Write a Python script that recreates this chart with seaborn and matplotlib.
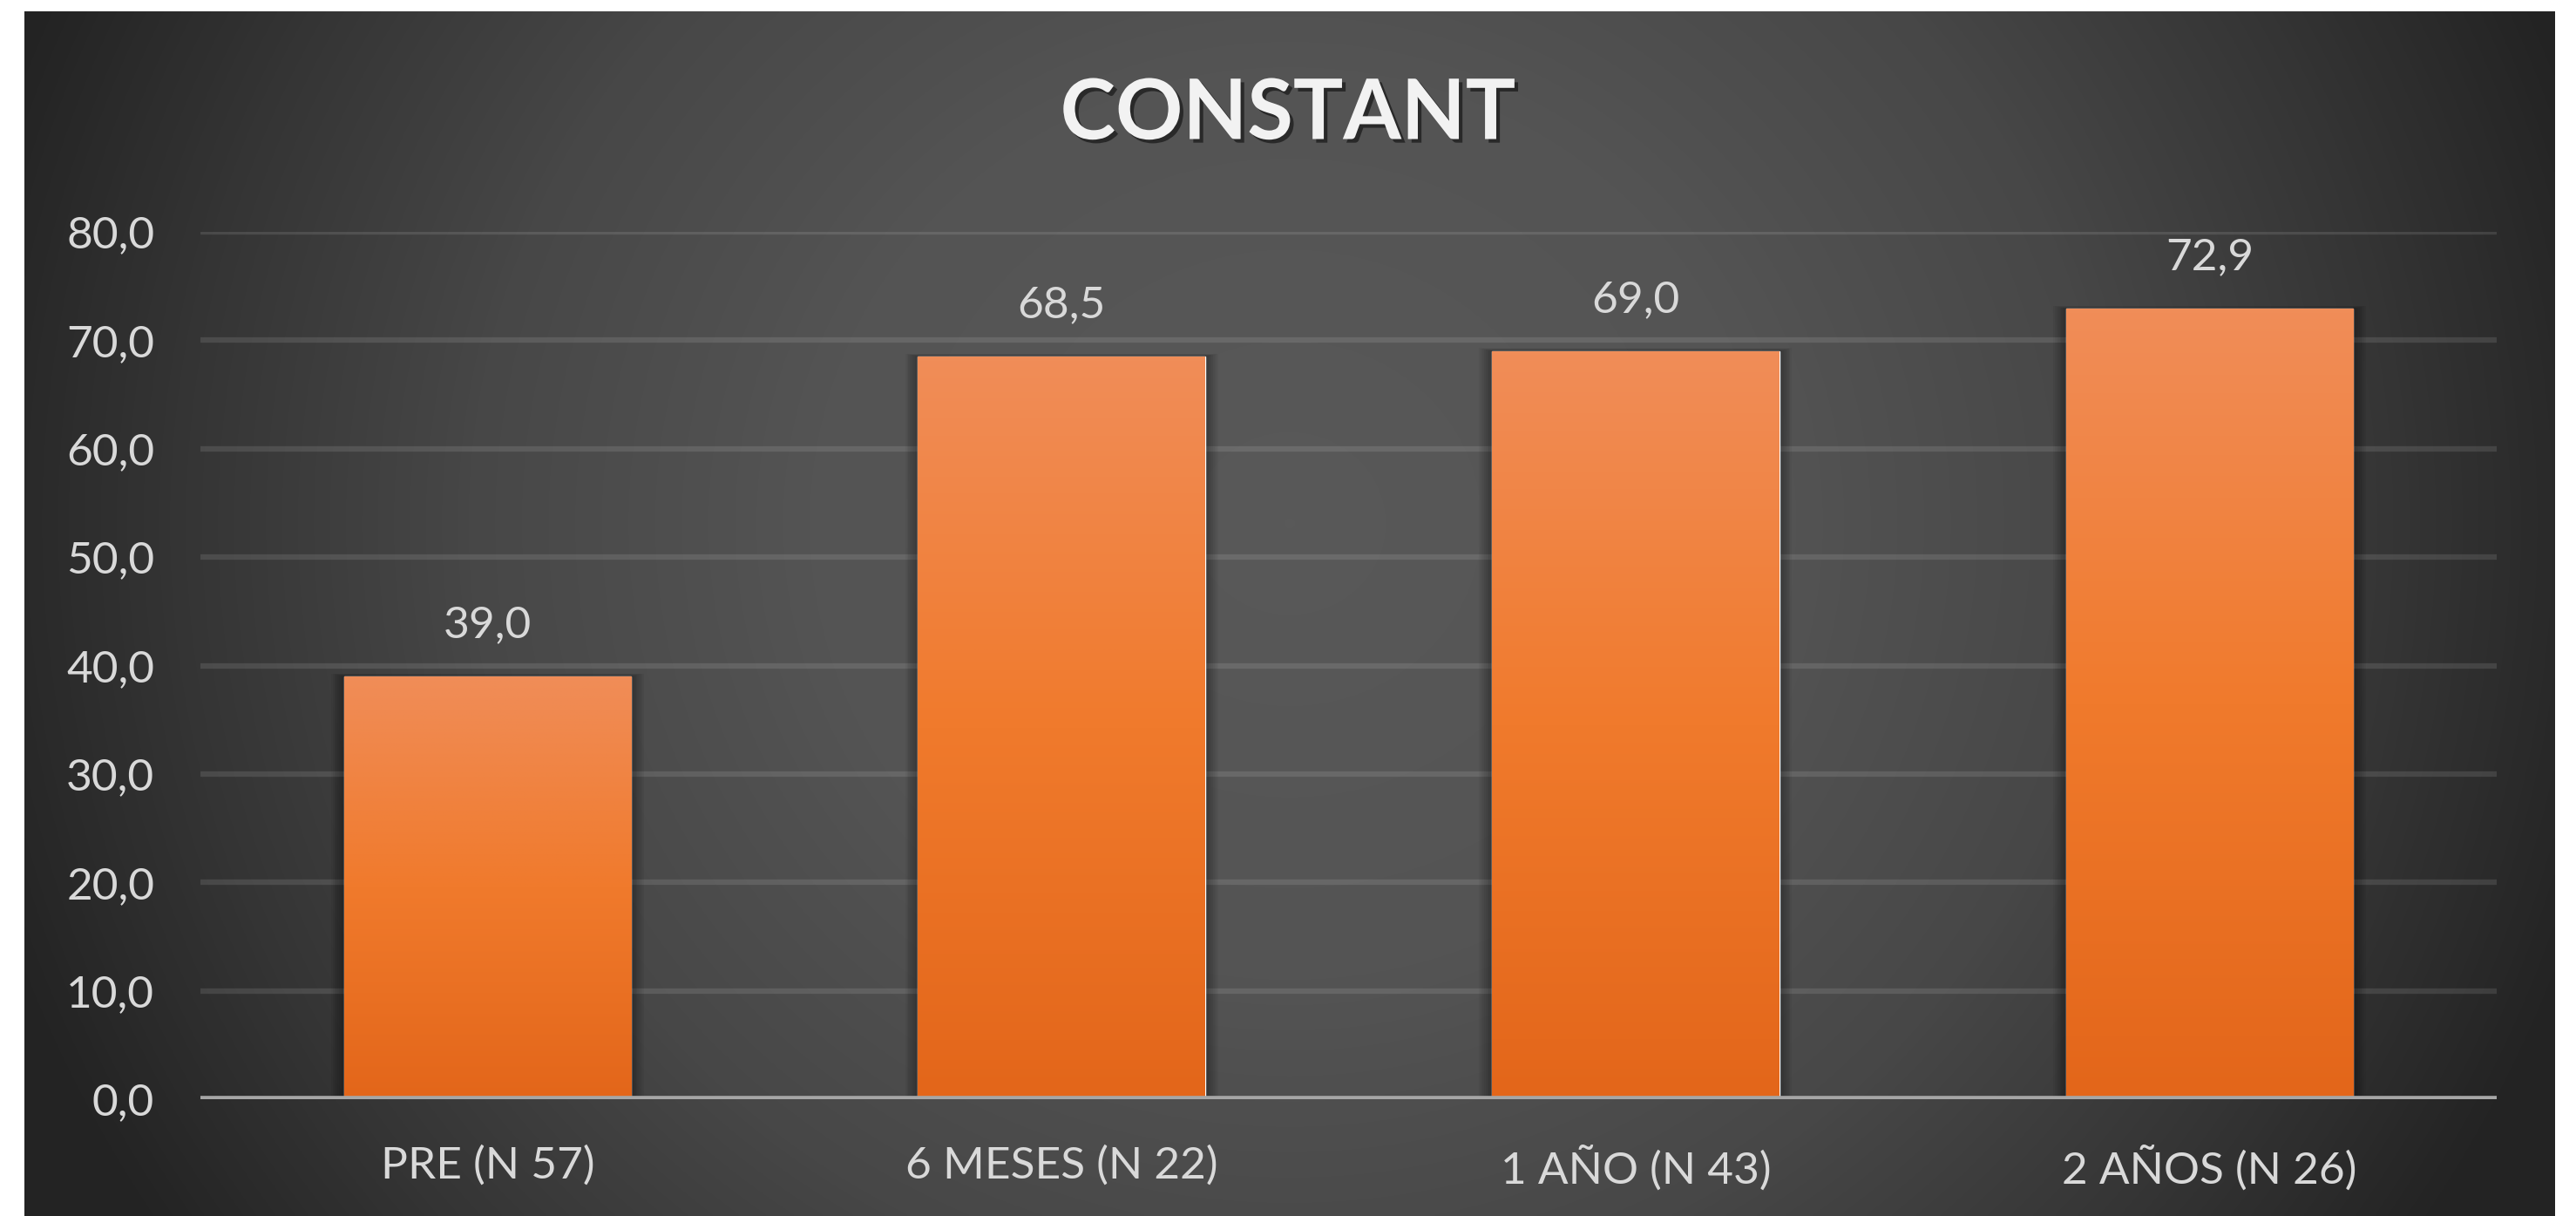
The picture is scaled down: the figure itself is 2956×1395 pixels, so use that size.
import numpy as np
import pandas as pd
import matplotlib
matplotlib.use("Agg")
import matplotlib.pyplot as plt
import matplotlib.patheffects as pe
from matplotlib.patches import Rectangle
from matplotlib.colors import LinearSegmentedColormap
from matplotlib.ticker import FuncFormatter
import seaborn as sns

# ---- data -------------------------------------------------------------
categories = ["PRE (N 57)", "6 MESES (N 22)", "1 AÑO (N 43)", "2 AÑOS (N 26)"]
values = [39.0, 68.5, 69.0, 72.9]
title = "CONSTANT"
y_ticks = [0, 10, 20, 30, 40, 50, 60, 70, 80]

df = pd.DataFrame({"grupo": categories, "valor": values})

# ---- style ------------------------------------------------------------
sns.set_theme(style="white")
plt.rcParams["font.family"] = ["Lato", "DejaVu Sans"]

W, H, DPI = 2956, 1395, 100
fig = plt.figure(figsize=(W / DPI, H / DPI), dpi=DPI, facecolor="white")

# dark slide panel with a broad soft light in the middle
px0, px1, py_top = 28, 2932, 13
bg = fig.add_axes([px0 / W, 0, (px1 - px0) / W, (H - py_top) / H], zorder=0)
gx = np.linspace(-1, 1, 800)
gy = np.linspace(-1, 1, 400)
X, Y = np.meshgrid(gx, gy)
r = np.sqrt((X / 1.0) ** 2 + ((Y + 0.15) / 2.0) ** 2)
r = np.clip(r / 1.08, 0, 1)
bg_cmap = LinearSegmentedColormap.from_list(
    "slide", [(0.0, "#595959"), (0.35, "#545454"), (0.6, "#474747"),
              (0.82, "#343434"), (1.0, "#232323")])
bg.imshow(r, cmap=bg_cmap, aspect="auto", extent=[0, 1, 0, 1], origin="upper",
          interpolation="bilinear", vmin=0, vmax=1)
bg.set_axis_off()

# main plotting area
ax_l, ax_r = 230, 2865
ax_top, ax_bot = 266, 1261
ax = fig.add_axes([ax_l / W, (H - ax_bot) / H, (ax_r - ax_l) / W, (ax_bot - ax_top) / H], zorder=1)
ax.patch.set_alpha(0)

sns.barplot(data=df, x="grupo", y="valor", ax=ax, color="#EE7A30", width=0.5,
            saturation=1, zorder=3)

ax.set_yticks(y_ticks)
ax.yaxis.set_major_formatter(FuncFormatter(lambda v, _: f"{v:.1f}".replace(".", ",")))

# gridlines and baseline
for t in y_ticks[1:]:
    ax.axhline(t, color="white", alpha=0.11, lw=4.5, zorder=1)
ax.axhline(0, color="#a6a6a6", lw=5.5, zorder=4)

for s in ax.spines.values():
    s.set_visible(False)
ax.set_xlabel("")
ax.set_ylabel("")
ax.tick_params(axis="both", length=0, colors="#D9D9D9", labelsize=37)
ax.tick_params(axis="y", pad=38)
ax.tick_params(axis="x", pad=38)

# soft shadow around each bar, then a vertical gradient fill
bar_cmap = LinearSegmentedColormap.from_list("bar", ["#E3661A", "#F07A2C", "#F08D58"])
grad = np.linspace(0, 1, 256).reshape(-1, 1)
bars = list(ax.patches)
for p in bars:
    x0, y0 = p.get_x(), p.get_y()
    w, h = p.get_width(), p.get_height()
    for k in range(1, 9):
        d = 0.0028 * k
        ax.add_patch(Rectangle((x0 - d, y0), w + 2 * d, h + d * 12, facecolor="black",
                               edgecolor="none", alpha=0.045, zorder=2.5))
    im = ax.imshow(grad, cmap=bar_cmap, aspect="auto", origin="lower",
                   extent=[x0, x0 + w, y0, y0 + h], zorder=3.5, interpolation="bilinear")
    im.set_clip_path(p)
ax.set_xlim(-0.5, len(categories) - 0.5)
ax.set_ylim(0, 80)

# value labels
for cont in ax.containers:
    ax.bar_label(cont, labels=[f"{v:.1f}".replace(".", ",") for v in values],
                 padding=26, color="#D9D9D9", fontsize=37, zorder=5)

# title
fig.text(0.5, (H - 132) / H, title, ha="center", va="center", fontsize=69,
         fontweight="bold", color="#F2F2F2",
         path_effects=[pe.withSimplePatchShadow(offset=(3, -3), shadow_rgbFace="black", alpha=0.5)])

fig.savefig("out.png", dpi=DPI, facecolor="white")
